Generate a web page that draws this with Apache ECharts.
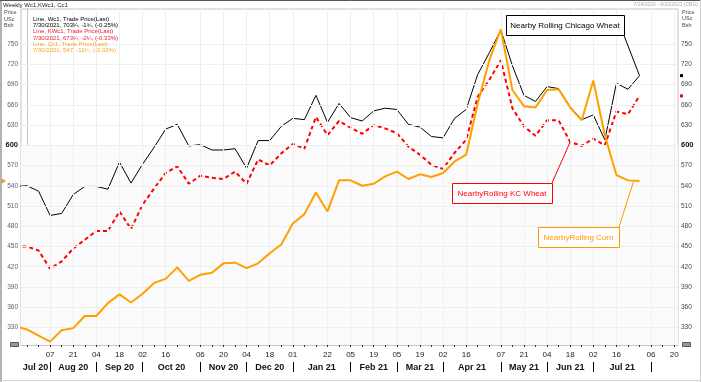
<!DOCTYPE html>
<html><head><meta charset="utf-8">
<script src="https://cdn.jsdelivr.net/npm/echarts@6/dist/echarts.min.js"></script>
<style>html,body{margin:0;padding:0;background:#fff}#c{width:701px;height:382px}</style>
</head><body><div id="c"></div>
<script>
const dates = ['2020-07-17','2020-07-24','2020-07-31','2020-08-07','2020-08-14','2020-08-21','2020-08-28','2020-09-04','2020-09-11','2020-09-18','2020-09-25','2020-10-02','2020-10-09','2020-10-16','2020-10-23','2020-10-30','2020-11-06','2020-11-13','2020-11-20','2020-11-27','2020-12-04','2020-12-11','2020-12-18','2020-12-25',
'2021-01-01','2021-01-08','2021-01-15','2021-01-22','2021-01-29','2021-02-05','2021-02-12','2021-02-19','2021-02-26','2021-03-05','2021-03-12','2021-03-19','2021-03-26','2021-04-02','2021-04-09','2021-04-16','2021-04-23','2021-04-30','2021-05-07','2021-05-14','2021-05-21','2021-05-28','2021-06-04','2021-06-11','2021-06-18','2021-06-25','2021-07-02','2021-07-09','2021-07-16','2021-07-23','2021-07-30'];
const chicagoWheat = [539,540,532,496,499,527,539,539,535,575,544,572,597,624,631,599,601,593,593,595,566,607,607,628,640,638,674,634,662,641,636,651,655,653,631,627,613,611,640,653,705,737,771,718,674,665,687,684,657,638,645,608,692,683,703.25];
const kcWheat = [450,450,444,417,428,447,460,473,473,502,476,512,536,559,569,543,555,552,550,561,543,579,570,588,602,595,642,615,636,626,617,630,625,618,598,586,571,565,589,608,672,697,726,655,628,614,637,637,605,599,610,600,650,646,673.25];
const corn = [332,327,318,309,326,329,347,347,366,379,367,380,396,402,419,399,408,411,425,426,418,425,440,453,484,498,530,502,548,548,540,543,554,561,550,557,553,559,576,586,662,726,772,682,658,656,682,683,656,637,696,615,556,548,547];
const yTicks = [330,360,390,420,450,480,510,540,570,600,630,660,690,720,750];
const dayTicks = ['2020-08-07','2020-08-21','2020-09-04','2020-09-18','2020-10-02','2020-10-16','2020-11-06','2020-11-20','2020-12-04','2020-12-18','2021-01-01','2021-01-22','2021-02-05','2021-02-19','2021-03-05','2021-03-19','2021-04-02','2021-04-16','2021-05-07','2021-05-21','2021-06-04','2021-06-18','2021-07-02','2021-07-16','2021-08-06','2021-08-20'];
const monthStarts = ['2020-08-07','2020-09-04','2020-10-02','2020-11-06','2020-12-04','2021-01-01','2021-02-05','2021-03-05','2021-04-02','2021-05-07','2021-06-04','2021-07-02','2021-08-06'];
const monthLabels = ['Jul 20','Aug 20','Sep 20','Oct 20','Nov 20','Dec 20','Jan 21','Feb 21','Mar 21','Apr 21','May 21','Jun 21','Jul 21'];
const legendLines = [
  ['Line, Wc1, Trade Price(Last)','#000000'],
  ['7/30/2021, 703\u00bc, -1\u00be, (-0.25%)','#000000'],
  ['Line, KWc1, Trade Price(Last)','#e8203a'],
  ['7/30/2021, 673\u00bc, -2\u00bc, (-0.33%)','#e8203a'],
  ['Line, Cc1, Trade Price(Last)','#f5a623'],
  ['7/30/2021, 547, -11\u00bc, (-2.02%)','#f5a623']
];

const BASE = Date.parse('2020-07-24');
const WEEK = 7*864e5;
const wk = s => (Date.parse(s) - BASE) / WEEK;
const X_MIN = -0.52, X_MAX = 56.33, Y_MIN = 304, Y_MAX = 802;
const weekTicks = []; for (let k = 0; k <= 56; k++) weekTicks.push(k);
const dayMap = {}; dayTicks.forEach(d => { dayMap[wk(d).toFixed(2)] = d.slice(8); });
const sepVals = monthStarts.map(wk);
const midVals = []; const monthMap = {};
monthLabels.forEach((m, i) => {
  const a = i === 0 ? X_MIN : sepVals[i-1];
  const b = sepVals[i];
  const v = (a + b) / 2; midVals.push(v); monthMap[v.toFixed(2)] = m;
});
const toPts = arr => dates.map((d, i) => [wk(d), arr[i]]);
const FF = 'Liberation Sans, Arial, sans-serif';

const chart = echarts.init(document.getElementById('c'));
const yAxisCommon = (pos, color) => ({
  type: 'value', position: pos, min: Y_MIN, max: Y_MAX,
  axisLine: { show: true, lineStyle: { color: '#c4c4c4' } },
  axisTick: { show: true, customValues: yTicks, length: 2, lineStyle: { color: '#444' } },
  axisLabel: { customValues: yTicks, fontSize: 6.5, fontFamily: FF, color: color, margin: 3,
    formatter: v => v === 600 ? '{b|600}' : String(v),
    rich: { b: { fontWeight: 'bold', color: '#111', fontSize: 7.5, fontFamily: FF } } },
  splitLine: { show: false }
});
chart.setOption({
  animation: false,
  backgroundColor: '#fff',
  grid: { left: 21, right: 23, top: 9, bottom: 37, show: true, borderColor: '#c4c4c4', borderWidth: 1, backgroundColor: '#fff' },
  xAxis: [{
    type: 'value', min: X_MIN, max: X_MAX, position: 'bottom',
    axisLine: { show: true, lineStyle: { color: '#c4c4c4' } },
    axisTick: { show: true, customValues: weekTicks, length: 2, lineStyle: { color: '#333' } },
    axisLabel: { customValues: dayTicks.map(wk), fontSize: 8, fontFamily: FF, color: '#1a1a33', margin: 6,
      formatter: v => dayMap[v.toFixed(2)] || '' },
    splitLine: { show: false }
  }, {
    type: 'value', min: X_MIN, max: X_MAX, position: 'bottom', offset: 17,
    axisLine: { show: false },
    axisTick: { show: true, customValues: sepVals, length: 10, lineStyle: { color: '#000', width: 1 } },
    axisLabel: { customValues: midVals, fontSize: 9, fontWeight: 'bold', fontFamily: FF, color: '#111', margin: 1,
      formatter: v => monthMap[v.toFixed(2)] || '' },
    splitLine: { show: false }
  }],
  yAxis: [yAxisCommon('left', '#56607a'), yAxisCommon('right', '#444')],
  series: [{
    type: 'line', data: [], silent: true,
    markArea: { silent: true, itemStyle: { color: '#fbfbfb' }, data: [[{ yAxis: Y_MIN }, { yAxis: 600 }]] },
    markLine: { silent: true, symbol: ['none','none'], label: { show: false },
      lineStyle: { color: '#efefef', type: 'solid', width: 1 },
      data: yTicks.map(v => ({ yAxis: v })).concat(dayTicks.map(d => ({ xAxis: wk(d) }))) }
  }, {
    name: 'Wc1', type: 'line', data: toPts(chicagoWheat), showSymbol: false, symbol: 'none',
    lineStyle: { color: '#000', width: 1 }, z: 3
  }, {
    name: 'KWc1', type: 'line', data: toPts(kcWheat), showSymbol: false, symbol: 'none',
    lineStyle: { color: '#ff0000', width: 2, type: [4, 3] }, z: 4
  }, {
    name: 'Cc1', type: 'line', data: toPts(corn), showSymbol: false, symbol: 'none',
    lineStyle: { color: '#ffa000', width: 2 }, z: 5
  }]
});

const P = (x, y) => chart.convertToPixel({ seriesIndex: 1 }, [x, y]);
const last = dates.length - 1;
const pBlack = P(wk(dates[last]), chicagoWheat[last]);
const pRed = P(wk(dates[48]), kcWheat[48]);
const pCorn = P((wk(dates[last-1]) + wk(dates[last])) / 2, (corn[last-1] + corn[last]) / 2);
const rightX = P(X_MAX, 600)[0];
const leftX = P(X_MIN, 600)[0];

function txt(x, y, text, fill, size, opts) {
  return Object.assign({ type: 'text', z: 100, style: Object.assign({ text: text, x: x, y: y, fill: fill,
    font: (opts && opts.weight ? opts.weight + ' ' : '') + size + 'px ' + FF,
    align: (opts && opts.align) || 'left', textAlign: (opts && opts.align) || 'left',
    verticalAlign: 'middle', textVerticalAlign: 'middle' }) });
}
function box(x, y, w, h, color, text, size) {
  return [
    { type: 'rect', z: 90, shape: { x: x + 0.5, y: y + 0.5, width: w, height: h }, style: { fill: '#fff', stroke: color, lineWidth: 1 } },
    txt(x + w / 2, y + h / 2 + 0.5, text, color, size, { align: 'center' })
  ];
}
function seg(x1, y1, x2, y2, color) {
  return { type: 'line', z: 89, shape: { x1: x1, y1: y1, x2: x2, y2: y2 }, style: { stroke: color, lineWidth: 1 } };
}
const g = [];
g.push(seg(0, 0.5, 701, 0.5, '#555'));
g.push(seg(1, 0, 1, 382, '#666'));
g.push(seg(0, 380.5, 701, 380.5, '#d0d0d0'));
g.push(seg(700.5, 0, 700.5, 382, '#d0d0d0'));
g.push(txt(3, 5, 'Weekly Wc1,KWc1, Cc1', '#222', 6));
g.push(txt(698, 5, '7/24/2020 - 8/20/2021 (CBG)', '#aaa', 5, { align: 'right' }));
['Price','USc','Bsh'].forEach((t, i) => {
  g.push(txt(4, 12.5 + i * 6.5, t, '#444', 5.5));
  g.push(txt(rightX + 4, 12 + i * 6.5, t, '#444', 5.5));
});
legendLines.forEach((l, i) => g.push(txt(33, 19 + i * 6.3, l[0], l[1], 6)));
g.push(seg(624, 35.5, pBlack[0], pBlack[1], '#000'));
g.push(...box(506, 15, 118, 20, '#000', 'Nearby Rolling Chicago Wheat', 8));
g.push(seg(552, 183, pRed[0], pRed[1], '#ff0000'));
g.push(...box(452, 183, 100, 20, '#ff0000', 'NearbyRolling KC Wheat', 8));
g.push(seg(619, 227, pCorn[0], pCorn[1], '#ff9900'));
g.push(...box(538, 227, 81, 20, '#ff9900', 'NearbyRolling Corn', 8));
g.push({ type: 'rect', z: 95, shape: { x: rightX + 2, y: pBlack[1] - 1.5, width: 3, height: 3 }, style: { fill: '#000' } });
g.push({ type: 'rect', z: 95, shape: { x: rightX + 2, y: P(X_MAX, kcWheat[last])[1] - 1.5, width: 3, height: 3 }, style: { fill: '#ff0000' } });
const cy = P(X_MIN, corn[last])[1];
g.push({ type: 'polygon', z: 95, shape: { points: [[leftX - 19, cy - 2.5], [leftX - 15, cy], [leftX - 19, cy + 2.5]] }, style: { fill: '#ffa000' } });
g.push({ type: 'rect', z: 95, shape: { x: 10.5, y: 342.5, width: 8, height: 4 }, style: { fill: '#999', stroke: '#555', lineWidth: 1 } });
g.push({ type: 'rect', z: 95, shape: { x: rightX + 4.5, y: 342.5, width: 8, height: 4 }, style: { fill: '#999', stroke: '#555', lineWidth: 1 } });
chart.setOption({ graphic: g });
</script></body></html>
